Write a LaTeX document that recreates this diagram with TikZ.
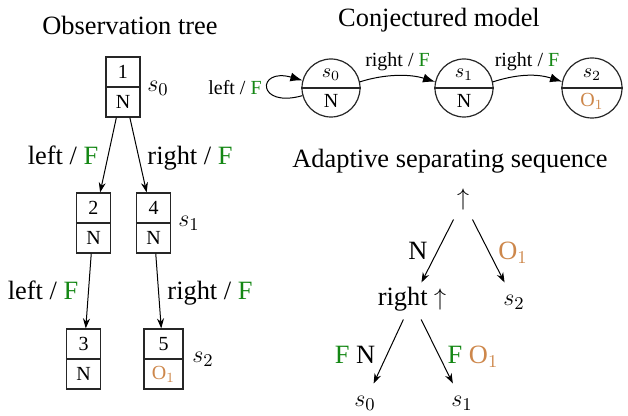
\documentclass[tikz,border=0pt]{standalone}
\usepackage{fontspec}
\setmainfont{Liberation Serif}
\usetikzlibrary{arrows.meta,calc}
\definecolor{fgreen}{RGB}{20,135,20}
\definecolor{oorange}{RGB}{205,135,75}
\newcommand{\gF}{\textcolor{fgreen}{F}}
\newcommand{\oO}{\textcolor{oorange}{O$_1$}}
\begin{document}
\begin{tikzpicture}[x=0.5pt,y=-0.5pt,
 big/.style={font=\fontsize{13.2}{15}\selectfont, inner sep=0pt},
 sml/.style={font=\fontsize{10}{12}\selectfont, inner sep=0pt},
 obox/.style={draw=black!85, line width=0.6pt, minimum width=17pt, minimum height=30pt, inner sep=0pt},
 mstate/.style={draw=black!85, line width=0.6pt, circle, minimum size=29pt, inner sep=0pt},
 divline/.style={draw=black!85, line width=0.6pt},
 tarr/.style={-{Stealth[length=5pt,width=3.5pt]}, line width=0.5pt},
 marr/.style={-{Latex[length=6pt,width=4.5pt]}, line width=0.5pt},
 anode/.style={font=\fontsize{13.2}{15}\selectfont, text height=0.7em, text depth=0.25em, inner sep=4.3pt},
]
\useasboundingbox (0,0) rectangle (628,416);

% ---------- Observation tree ----------
\node[big, anchor=base] (ttl1) at (130,35) {Observation tree};

\node[obox] (t1) at (123,87) {};
\draw[divline] (t1.west) -- (t1.east);
\node[sml] (t1a) at (123,72) {1};
\node[sml] (t1b) at (123,102) {N};
\node[big, anchor=base west] (lt1) at (147,92) {$s_0$};

\node[obox] (t2) at (93.5,223) {};
\draw[divline] (t2.west) -- (t2.east);
\node[sml] (t2a) at (93.5,208) {2};
\node[sml] (t2b) at (93.5,238) {N};

\node[obox] (t4) at (153.5,223) {};
\draw[divline] (t4.west) -- (t4.east);
\node[sml] (t4a) at (153.5,208) {4};
\node[sml] (t4b) at (153.5,238) {N};
\node[big, anchor=base west] (lt4) at (178,227) {$s_1$};

\node[obox] (t3) at (83.5,359) {};
\draw[divline] (t3.west) -- (t3.east);
\node[sml] (t3a) at (83.5,344) {3};
\node[sml] (t3b) at (83.5,374) {N};

\node[obox, minimum width=19.5pt] (t5) at (163.5,359) {};
\draw[divline] (t5.west) -- (t5.east);
\node[sml] (t5a) at (163.5,344) {5};
\node[sml] (t5b) at (163.5,374) {\oO};
\node[big, anchor=base west] (lt5) at (192,363) {$s_2$};

\draw[tarr] (t1) -- (t2);
\draw[tarr] (t1) -- (t4);
\draw[tarr] (t2) -- (t3);
\draw[tarr] (t4) -- (t5);

\node[big, anchor=base] (e12) at (63,165) {left / \gF};
\node[big, anchor=base] (e14) at (190,165) {right / \gF};
\node[big, anchor=base] (e23) at (43,300) {left / \gF};
\node[big, anchor=base] (e45) at (210,300) {right / \gF};

% ---------- Conjectured model ----------
\node[big, anchor=base] (ttl2) at (439,27) {Conjectured model};

\node[mstate] (m0) at (331,88) {};
\draw[divline] (m0.west) -- (m0.east);
\node[sml] (m0a) at (331,75) {$s_0$};
\node[sml] (m0b) at (331,101) {N};

\node[mstate] (m1) at (464,88) {};
\draw[divline] (m1.west) -- (m1.east);
\node[sml] (m1a) at (464,75) {$s_1$};
\node[sml] (m1b) at (464,101) {N};

\node[mstate, minimum size=30pt] (m2) at (592,88) {};
\draw[divline] (m2.west) -- (m2.east);
\node[sml] (m2a) at (592,75) {$s_2$};
\node[sml] (m2b) at (592,101) {\oO};

\draw[marr] (m0.195) .. controls +(-46,13) and +(-46,-13) .. (m0.165);
\draw[marr] (m0.12) .. controls +(25,-8) and +(-25,-8) .. (m1.168);
\draw[marr] (m1.12) .. controls +(25,-8) and +(-25,-8) .. (m2.168);

\node[sml, anchor=base] (ml0) at (235,95) {left / \gF};
\node[sml, anchor=base] (ml1) at (397.5,67) {right / \gF};
\node[sml, anchor=base] (ml2) at (527,67) {right / \gF};

% ---------- Adaptive separating sequence ----------
\node[big, anchor=base] (ttl3) at (450,168) {Adaptive separating sequence};

\node[anode] (r0) at (463,201) {$\uparrow$};
\node[anode] (r1) at (412,301) {right $\uparrow$};
\node[anode] (a2) at (514,301) {$s_2$};
\node[anode] (a0) at (365,402) {$s_0$};
\node[anode] (a1) at (462,402) {$s_1$};

\draw[tarr] (r0) -- (r1);
\draw[tarr] (r0) -- (a2);
\draw[tarr] (r1) -- (a0);
\draw[tarr] (r1) -- (a1);

\node[big, anchor=base] (al1) at (418,260) {N};
\node[big, anchor=base] (al2) at (513,260) {\oO};
\node[big, anchor=base] (al3) at (355,364) {\gF{} N};
\node[big, anchor=base] (al4) at (473,364) {\gF{} \oO};
\end{tikzpicture}
\end{document}
